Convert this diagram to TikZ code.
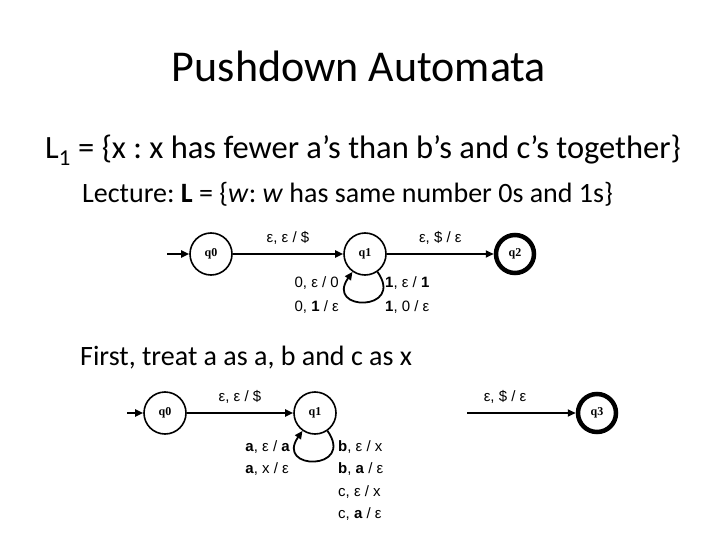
\documentclass[tikz,border=0pt]{standalone}
\usepackage{fontspec}
\setmainfont{Carlito}
\newfontfamily\labelfont{Liberation Sans}
\newfontfamily\statefont{Liberation Serif}
\usetikzlibrary{arrows.meta}
\frenchspacing
\tikzset{
  pdastate/.style={circle, draw=black, line width=1.6pt, minimum size=42pt, inner sep=0pt,
                   font=\statefont\bfseries\fontsize{12}{12}\selectfont},
  acceptstate/.style={pdastate, line width=4.5pt, minimum size=38pt},
  transarrow/.style={-{Triangle[length=8pt,width=7pt]}, line width=1.8pt},
  translabel/.style={font=\labelfont\fontsize{15}{24}\selectfont, inner sep=0pt, align=left},
  slidetext/.style={inner sep=0pt, anchor=base west},
}

\begin{document}
\begin{tikzpicture}[x=1pt, y=-1pt]
  \useasboundingbox[fill=white] (0,0) rectangle (720,540);
  % slide text
  \node[inner sep=0pt, anchor=base, font=\fontsize{44}{48}\selectfont] (title) at (359,82) {Pushdown Automata};
  \node[slidetext, font=\fontsize{32.5}{36}\selectfont] (lang) at (45,159)
    {L\textsubscript{1} = \{x : x has fewer a’s than b’s and c’s together\}};
  \node[slidetext, font=\fontsize{28}{32}\selectfont] (lecture) at (82,203)
    {Lecture: \textbf{L} = \{\textit{w}: \textit{w} has same number 0s and 1s\}};
  \node[slidetext, font=\fontsize{28}{32}\selectfont] (first) at (80,365)
    {First, treat a as a, b and c as x};

  % lecture PDA
  \coordinate (startA) at (167,254);
  \node[pdastate] (qA0) at (211,254) {q0};
  \node[pdastate] (qA1) at (365,254) {q1};
  \node[acceptstate] (qA2) at (515,254) {q2};
  \draw[transarrow] (startA) -- (qA0);
  \draw[transarrow] (qA0) -- (qA1) node[translabel, midway, above=9pt] (push) {ε, ε / \$};
  \draw[transarrow] (qA1) -- (qA2) node[translabel, midway, above=9pt] (pop) {ε, \$ / ε};
  \draw[transarrow] (qA1) to[out=-55, in=-125, looseness=5] (qA1);
  \node[translabel, anchor=east] (loopAl) at (339,295) {0, ε / 0\\0, \textbf{1} / ε};
  \node[translabel, anchor=west] (loopAr) at (385,295) {\textbf{1}, ε / \textbf{1}\\\textbf{1}, 0 / ε};

  % L1 PDA
  \coordinate (startB) at (127,413);
  \coordinate (freeB) at (467,413);
  \node[pdastate] (qB0) at (165,413) {q0};
  \node[pdastate] (qB1) at (315,413) {q1};
  \node[acceptstate] (qB3) at (597,413) {q3};
  \draw[transarrow] (startB) -- (qB0);
  \draw[transarrow] (qB0) -- (qB1) node[translabel, midway, above=9pt] (pushB) {ε, ε / \$};
  \draw[transarrow] (freeB) -- (qB3) node[translabel, pos=0.35, above=9pt] (popB) {ε, \$ / ε};
  \draw[transarrow] (qB1) to[out=-55, in=-125, looseness=5] (qB1);
  \node[translabel, anchor=north east, font=\labelfont\fontsize{15}{22.5}\selectfont] (loopBl) at (290,440)
    {\textbf{a}, ε / \textbf{a}\\\textbf{a}, x / ε};
  \node[translabel, anchor=north west, font=\labelfont\fontsize{15}{22.5}\selectfont] (loopBr) at (338,440)
    {\textbf{b}, ε / x\\\textbf{b}, \textbf{a} / ε\\c, ε / x\\c, \textbf{a} / ε};
\end{tikzpicture}
\end{document}
